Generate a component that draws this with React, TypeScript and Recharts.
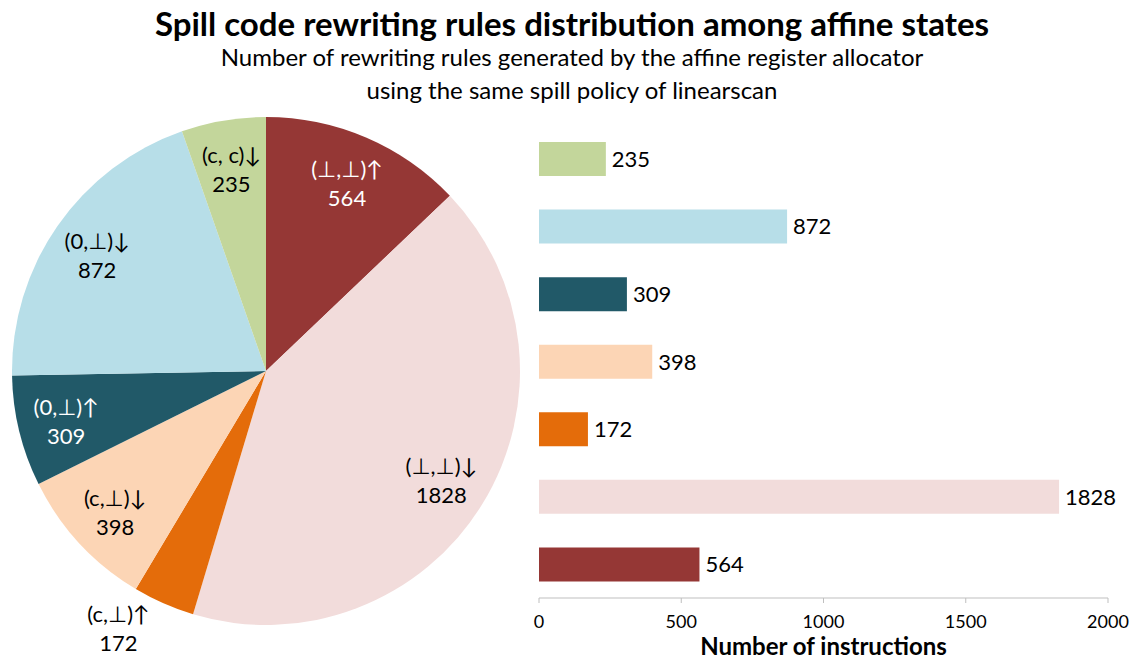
import { PieChart, Pie, Cell, BarChart, Bar, XAxis, YAxis, LabelList, Label } from 'recharts'

const FONT = 'Lato, "DejaVu Sans", sans-serif'

// pie order, clockwise from 12 o'clock
const states = ['(⊥,⊥)↑', '(⊥,⊥)↓', '(c,⊥)↑', '(c,⊥)↓', '(0,⊥)↑', '(0,⊥)↓', '(c, c)↓']
const counts = [564, 1828, 172, 398, 309, 872, 235]
const colors = ['#953735', '#F2DCDB', '#E46C0A', '#FCD5B5', '#215968', '#B7DEE8', '#C3D69B']
const textColors = ['#fff', '#000', '#000', '#000', '#fff', '#000', '#000']
const xTicks = [0, 500, 1000, 1500, 2000]

const pieData = states.map((s, i) => ({ state: s, count: counts[i] }))
// bars run top to bottom in reverse pie order
const barData = pieData.map((d, i) => ({ ...d, i })).reverse()

const RAD = Math.PI / 180

const PieLabel = (props: any) => {
  const { cx, cy, midAngle, outerRadius, percent, index } = props
  // the thin orange slice gets its label outside, below-left
  const outside = percent < 0.05 && counts[index] < 200
  const r = outerRadius * (outside ? 1.1 : 0.81)
  const x = cx + r * Math.cos(-midAngle * RAD) - (outside ? 35 : 0)
  const y = cy + r * Math.sin(-midAngle * RAD)
  return (
    <text x={x} y={y} textAnchor="middle" fill={outside ? '#000' : textColors[index]} fontSize={22} fontFamily={FONT}>
      <tspan x={x} dy={-5}>{states[index]}</tspan>
      <tspan x={x} dy={29}>{counts[index]}</tspan>
    </text>
  )
}

export default function App() {
  return (
    <div style={{ position: 'absolute', left: 0, top: 0, width: 1130, height: 660, background: '#fff', fontFamily: FONT }}>
      <div style={{ position: 'absolute', left: 0, top: 3, width: 1144, textAlign: 'center', fontSize: 33, lineHeight: '40px', fontWeight: 700, color: '#000' }}>
        Spill code rewriting rules distribution among affine states
      </div>
      <div style={{ position: 'absolute', left: 0, top: 40, width: 1144, textAlign: 'center', fontSize: 24, lineHeight: '33px', color: '#000' }}>
        Number of rewriting rules generated by the affine register allocator
        <br />
        using the same spill policy of linearscan
      </div>

      <div style={{ position: 'absolute', left: 0, top: 0 }}>
        <PieChart width={530} height={660}>
          <Pie
            data={pieData}
            dataKey="count"
            nameKey="state"
            cx={261}
            cy={366}
            outerRadius={254}
            startAngle={90}
            endAngle={-270}
            stroke="none"
            label={PieLabel}
            labelLine={false}
            isAnimationActive={false}
          >
            {pieData.map((d, i) => (
              <Cell key={d.state} fill={colors[i]} />
            ))}
          </Pie>
        </PieChart>
      </div>

      <div style={{ position: 'absolute', left: 500, top: 0 }}>
        <BarChart width={630} height={660} data={barData} layout="vertical" margin={{ top: 125, right: 22, bottom: 7, left: 39 }}>
          <XAxis
            type="number"
            domain={[0, 2000]}
            ticks={xTicks}
            interval={0}
            height={55}
            tickSize={5}
            tickMargin={12}
            stroke="#BFBFBF"
            tick={{ fill: '#000', fontSize: 18, fontFamily: FONT }}
          >
            <Label value="Number of instructions" position="insideBottom" offset={-2} fill="#000" fontSize={24} fontWeight={700} fontFamily={FONT} />
          </XAxis>
          <YAxis type="category" dataKey="state" width={0} tick={false} tickLine={false} axisLine={{ stroke: '#BFBFBF', strokeWidth: 1.5 }} />
          <Bar dataKey="count" barSize={34} isAnimationActive={false}>
            {barData.map(d => (
              <Cell key={d.state} fill={colors[d.i]} />
            ))}
            <LabelList dataKey="count" position="right" offset={6} fill="#000" fontSize={22} fontFamily={FONT} />
          </Bar>
        </BarChart>
      </div>
    </div>
  )
}
